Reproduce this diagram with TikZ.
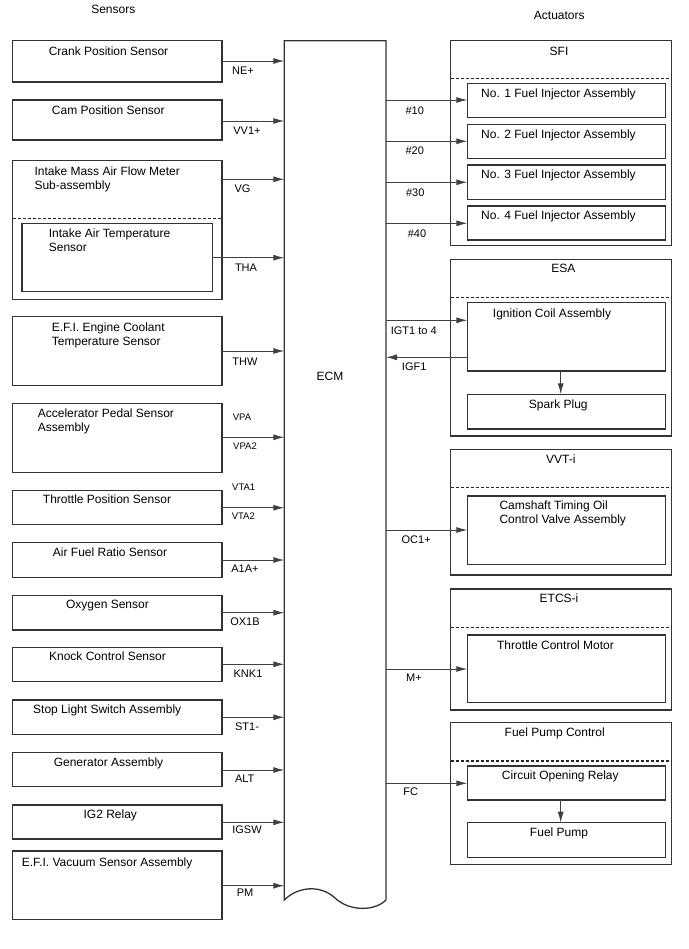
\documentclass[tikz,border=0pt]{standalone}
\usepackage{fontspec}
\setmainfont{Liberation Sans}
\usetikzlibrary{arrows.meta}
\newcommand\mkbox[5]{\node[boxst, minimum width={#4-#2}, minimum height={#5-#3}] (#1) at ({(#2+#4)/2},{(#3+#5)/2}) {};}
\begin{document}
\begin{tikzpicture}[x=1pt,y=-1pt,
  boxst/.style={draw=black!80, line width=1.3pt, inner sep=0, outer sep=0},
  arr/.style={draw=black!75, line width=0.9pt, -{Latex[length=11pt,width=6pt]}},
  dsh/.style={draw=black!85, line width=1.1pt, dash pattern=on 3pt off 2pt},
  txt/.style={font=\fontsize{12}{14}\selectfont, inner sep=0, anchor=base},
  txtw/.style={font=\fontsize{12}{14}\selectfont, inner sep=0, anchor=base west},
  txtl/.style={font=\fontsize{12}{14}\selectfont, inner sep=0, anchor=north west, align=left},
  lbl/.style={font=\fontsize{11}{13}\selectfont, inner sep=0, anchor=base},
  sml/.style={font=\fontsize{9.5}{11}\selectfont, inner sep=0, anchor=base}]
\useasboundingbox (0,0) rectangle (688,949);

% headings
\node[txt] (hsens) at (113.3,13.8) {Sensors};
\node[txt] (hact) at (559.3,19.3) {Actuators};

% ECM
\node[inner sep=0, outer sep=0, minimum width=101.7, minimum height=859.3] (ecm) at (335.15,470.35) {};
\draw[draw=black!80, line width=1.3pt] (ecm.south east) -- (ecm.north east) -- (ecm.north west) -- (ecm.south west)
  .. controls (297,887) and (320,884) .. (335,898) .. controls (350,912) and (375,911) .. (ecm.south east);
\node[txt] (ecmlbl) at (330,380.3) {ECM};

% sensors
\mkbox{crank}{12.7}{40.7}{222}{82}
\mkbox{cam}{12.7}{100}{222}{140}
\mkbox{maf}{12.7}{160.7}{222}{299.3}
\mkbox{iat}{22}{223.3}{212.3}{291.7}
\mkbox{ect}{12.7}{316.7}{222}{385.7}
\mkbox{app}{12.7}{403.3}{222}{472.3}
\mkbox{tps}{12.7}{490.7}{222}{524.3}
\mkbox{afr}{12.7}{542.7}{222}{577.3}
\mkbox{oxy}{12.7}{595.3}{222}{630}
\mkbox{knk}{12.7}{647.3}{222}{681.7}
\mkbox{stp}{12.7}{700}{222}{734.3}
\mkbox{gen}{12.7}{752.3}{222}{786.7}
\mkbox{igr}{12.7}{805}{222}{839}
\mkbox{vac}{12.7}{851}{222}{919.3}
\draw[dsh] (maf.west |- 0,218.3) -- (maf.east |- 0,218.3);

\node[txt] (tcrank) at (108.5,56) {Crank Position Sensor};
\node[txt] (tcam) at (108.3,115) {Cam Position Sensor};
\node[txtl] (tmaf) at (34.3,166.5) {Intake Mass Air Flow Meter\\Sub-assembly};
\node[txtl] (tiat) at (48.7,228.2) {Intake Air Temperature\\Sensor};
\node[txtl] (tect) at (51.7,322.2) {E.F.I. Engine Coolant\\Temperature Sensor};
\node[txtl] (tapp) at (37.7,408.8) {Accelerator Pedal Sensor\\Assembly};
\node[txt] (ttps) at (107,503.6) {Throttle Position Sensor};
\node[txt] (tafr) at (110,556) {Air Fuel Ratio Sensor};
\node[txt] (toxy) at (107.5,608.3) {Oxygen Sensor};
\node[txt] (tknk) at (107.5,660) {Knock Control Sensor};
\node[txt] (tstp) at (107.2,713.6) {Stop Light Switch Assembly};
\node[txt] (tgen) at (108.5,766.3) {Generator Assembly};
\node[txt] (tigr) at (110.3,818.3) {IG2 Relay};
\node[txtw] (tvac) at (21.7,866) {E.F.I. Vacuum Sensor Assembly};

% sensor arrows
\draw[arr] (crank.east |- 0,61) -- (ecm.west |- 0,61);
\draw[arr] (cam.east |- 0,121) -- (ecm.west |- 0,121);
\draw[arr] (maf.east |- 0,179.3) -- (ecm.west |- 0,179.3);
\draw[arr] (iat.east |- 0,257.7) -- (ecm.west |- 0,257.7);
\draw[arr] (ect.east |- 0,351) -- (ecm.west |- 0,351);
\draw[arr] (app.east |- 0,437.3) -- (ecm.west |- 0,437.3);
\draw[arr] (tps.east |- 0,507.7) -- (ecm.west |- 0,507.7);
\draw[arr] (afr.east |- 0,560) -- (ecm.west |- 0,560);
\draw[arr] (oxy.east |- 0,612.7) -- (ecm.west |- 0,612.7);
\draw[arr] (knk.east |- 0,664.3) -- (ecm.west |- 0,664.3);
\draw[arr] (stp.east |- 0,717.3) -- (ecm.west |- 0,717.3);
\draw[arr] (gen.east |- 0,770) -- (ecm.west |- 0,770);
\draw[arr] (igr.east |- 0,822.3) -- (ecm.west |- 0,822.3);
\draw[arr] (vac.east |- 0,885.7) -- (ecm.west |- 0,885.7);

% sensor labels
\node[lbl] (lne) at (243,74.7) {NE+};
\node[lbl] (lvv) at (247,134.7) {VV1+};
\node[lbl] (lvg) at (242.5,193) {VG};
\node[lbl] (ltha) at (246,271.3) {THA};
\node[lbl] (lthw) at (245,365) {THW};
\node[sml] (lvpa) at (242,420.7) {VPA};
\node[sml] (lvpb) at (245,449.1) {VPA2};
\node[sml] (lvta) at (243.7,490.7) {VTA1};
\node[sml] (lvtb) at (243.3,519.1) {VTA2};
\node[lbl] (laf) at (245,572.3) {A1A+};
\node[lbl] (lox) at (245,625) {OX1B};
\node[lbl] (lkn) at (248,677.3) {KNK1};
\node[lbl] (lst) at (247,730.7) {ST1-};
\node[lbl] (lalt) at (244.7,782.3) {ALT};
\node[lbl] (lig) at (247,833) {IGSW};
\node[lbl] (lpm) at (245,896.3) {PM};

% actuators
\mkbox{sfi}{450.7}{40.7}{671.7}{245.7}
\mkbox{inja}{467.3}{83.3}{665.3}{117.3}
\mkbox{injb}{467.3}{124.3}{665.3}{158.3}
\mkbox{injc}{467.3}{165}{665.3}{199.3}
\mkbox{injd}{467.3}{206}{665.3}{240}
\mkbox{esa}{450.7}{259.3}{671.7}{436}
\mkbox{coil}{467.3}{302.7}{665.3}{371}
\mkbox{spark}{467.3}{394.3}{665.3}{429}
\mkbox{vvt}{450.7}{449.3}{671.7}{575}
\mkbox{ocv}{467.3}{496}{665.3}{564.3}
\mkbox{etcs}{450.7}{589}{671.7}{710}
\mkbox{tcm}{467.3}{635}{665.3}{702.7}
\mkbox{fpc}{450.7}{722.7}{671.7}{864.3}
\mkbox{cor}{467.3}{766}{665.3}{800}
\mkbox{pump}{467.3}{822.7}{665.3}{857.3}
\draw[dsh] (sfi.west |- 0,78.7) -- (sfi.east |- 0,78.7);
\draw[dsh] (esa.west |- 0,297.3) -- (esa.east |- 0,297.3);
\draw[dsh] (vvt.west |- 0,487.7) -- (vvt.east |- 0,487.7);
\draw[dsh] (etcs.west |- 0,627.3) -- (etcs.east |- 0,627.3);
\draw[dsh] (fpc.west |- 0,761) -- (fpc.east |- 0,761);

\node[txt] (tsfi) at (559,55.3) {SFI};
\node[txtw] (tinja) at (481,97.6) {No. 1 Fuel Injector Assembly};
\node[txtw] (tinjb) at (481,138.6) {No. 2 Fuel Injector Assembly};
\node[txtw] (tinjc) at (481,178.3) {No. 3 Fuel Injector Assembly};
\node[txtw] (tinjd) at (481,219.3) {No. 4 Fuel Injector Assembly};
\node[txt] (tesa) at (563.3,272.6) {ESA};
\node[txt] (tcoil) at (552,317) {Ignition Coil Assembly};
\node[txt] (tspark) at (558.3,408.3) {Spark Plug};
\node[txt] (tvvt) at (560.8,463.6) {VVT-i};
\node[txtl] (tocv) at (499.3,500.5) {Camshaft Timing Oil\\Control Valve Assembly};
\node[txt] (tetcs) at (559,602.6) {ETCS-i};
\node[txt] (ttcm) at (555.5,649.3) {Throttle Control Motor};
\node[txt] (tfpc) at (554.7,736) {Fuel Pump Control};
\node[txt] (tcor) at (560.3,779.3) {Circuit Opening Relay};
\node[txt] (tpump) at (559,836.3) {Fuel Pump};

% actuator arrows
\draw[arr] (ecm.east |- 0,100) -- (inja.west |- 0,100);
\draw[arr] (ecm.east |- 0,141.3) -- (injb.west |- 0,141.3);
\draw[arr] (ecm.east |- 0,182.3) -- (injc.west |- 0,182.3);
\draw[arr] (ecm.east |- 0,223.3) -- (injd.west |- 0,223.3);
\draw[arr] (ecm.east |- 0,320.3) -- (coil.west |- 0,320.3);
\draw[arr] (coil.west |- 0,357.3) -- (ecm.east |- 0,357.3);
\draw[arr] (ecm.east |- 0,530) -- (ocv.west |- 0,530);
\draw[arr] (ecm.east |- 0,669) -- (tcm.west |- 0,669);
\draw[arr] (ecm.east |- 0,783.3) -- (cor.west |- 0,783.3);
\draw[arr] (coil.south -| 560.7,0) -- (spark.north -| 560.7,0);
\draw[arr] (cor.south -| 560.7,0) -- (pump.north -| 560.7,0);

% actuator labels
\node[lbl] (l10) at (414.7,114.3) {\#10};
\node[lbl] (l20) at (414.7,155) {\#20};
\node[lbl] (l30) at (415.3,196.3) {\#30};
\node[lbl] (l40) at (417,237.3) {\#40};
\node[lbl] (ligt) at (413.7,334) {IGT1 to 4};
\node[lbl] (ligf) at (414.2,370.7) {IGF1};
\node[lbl] (loc) at (416.2,543.3) {OC1+};
\node[lbl] (lm) at (414,681.3) {M+};
\node[lbl] (lfc) at (410.8,795.7) {FC};
\end{tikzpicture}
\end{document}
